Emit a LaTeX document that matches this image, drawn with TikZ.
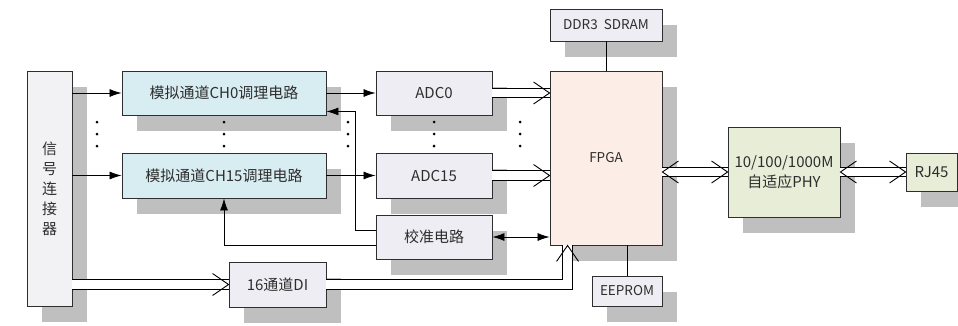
\documentclass[tikz,border=0pt]{standalone}
\usepackage{fontspec}
\setmainfont{Noto Sans CJK SC}
\usepackage{tikz}
\usetikzlibrary{arrows.meta,shadows}
\definecolor{bdline}{HTML}{2E2E2E}
\definecolor{connfill}{HTML}{F2F2F4}
\definecolor{chfill}{HTML}{D8EDF2}
\definecolor{adcfill}{HTML}{EEEDF3}
\definecolor{fpgafill}{HTML}{FCEEE6}
\definecolor{phyfill}{HTML}{E8EDD8}

\begin{document}
\begin{tikzpicture}[x=1pt, y=-1pt,
  blk/.style={draw=bdline, line width=0.9pt, text=bdline, inner sep=0pt,
    font=\fontsize{15}{20}\selectfont, minimum height=44pt,
    drop shadow={shadow xshift=15pt, shadow yshift=-16pt, fill=black!25, opacity=1}},
  sig/.style={-{Latex[length=12pt,width=8pt]}, line width=0.8pt, draw=black},
  sigboth/.style={sig, {Latex[length=12pt,width=8pt]}-{Latex[length=12pt,width=8pt]}},
  bus/.style={draw=black, line width=0.8pt, double=white, double distance=8.6pt},
  chev/.pic={\draw[line width=0.9pt] (-16,-11) -- (0,0) -- (-16,11);},
]
% page: 958 x 325, one unit = one pixel, y grows downwards
\useasboundingbox (0,0) rectangle (958,325);

% Blocks
\node[blk, fill=connfill, minimum width=45pt, minimum height=235pt, align=center] (conn) at (49.5,188.5) {信\\号\\连\\接\\器};
\node[blk, fill=chfill, minimum width=204pt] (ch0) at (224,93) {模拟通道CH0调理电路};
\node[blk, fill=chfill, minimum width=204pt, minimum height=45pt] (ch15) at (224,175.5) {模拟通道CH15调理电路};
\node[blk, fill=adcfill, minimum width=97pt, minimum height=45pt] (di) at (277.5,284.5) {16通道DI};
\node[blk, fill=adcfill, minimum width=116pt] (adc0) at (434,93) {ADC0};
\node[blk, fill=adcfill, minimum width=116pt, minimum height=45pt] (adc15) at (434,175.5) {ADC15};
\node[blk, fill=adcfill, minimum width=116pt] (calib) at (434,237) {校准电路};
\node[blk, fill=fpgafill, minimum width=112pt, minimum height=174pt, font=\fontsize{13.5}{16}\selectfont] (fpga) at (606,158) {FPGA};
\node[blk, fill=adcfill, minimum width=112pt, minimum height=32pt, font=\fontsize{13.5}{16}\selectfont] (ddr) at (606,25) {DDR3\ \ SDRAM};
\node[blk, fill=adcfill, minimum width=70pt, minimum height=30pt, font=\fontsize{13.5}{16}\selectfont] (eeprom) at (627,291) {EEPROM};
\node[blk, fill=phyfill, minimum width=112pt, minimum height=90pt, align=center] (phy) at (784,172) {10/100/1000M\\自适应PHY};
\node[blk, fill=phyfill, minimum width=51pt, minimum height=38pt] (rj) at (931.5,172) {RJ45};

% Ellipsis dots between channel 0 and channel 15
\foreach \x in {97,224,348,434,520} {
  \foreach \y in {122,134,146} {
    \fill[black] (\x,\y) circle (1.5pt);
  }
}

% Analog signal path
\draw[sig] (conn.east |- ch0.west) -- (ch0.west);
\draw[sig] (conn.east |- ch15.west) -- (ch15.west);
\draw[sig] (ch0.east) -- (adc0.west);
\draw[sig] (ch15.east) -- (adc15.west);

% Calibration feedback
\draw[sig] ([yshift=7pt]calib.west) -- ++(-20,0) |- ([yshift=4pt]ch0.south east);
\draw[sig] ([yshift=-8pt]calib.west) -| (ch15.south);
\draw[sigboth] (calib.east) -- (calib.east -| fpga.west);

% Data buses
\draw[bus] (adc0.east) -- (adc0.east -| fpga.west);
\pic at (adc0.east -| fpga.west) {chev};
\draw[bus] (adc15.east) -- (adc15.east -| fpga.west);
\pic at (adc15.east -| fpga.west) {chev};
\draw[bus] (conn.east |- di.west) -- (di.west);
\pic at (di.west) {chev};
\coordinate (diin) at ([xshift=18pt]fpga.south west);
\draw[bus] (di.east) -| (diin);
\pic[rotate=90] at (diin) {chev};
\draw[bus] (fpga.east |- phy.west) -- (phy.west);
\pic at (phy.west) {chev};
\pic[rotate=180] at (fpga.east |- phy.west) {chev};
\draw[bus] (phy.east) -- (rj.west);
\pic at (rj.west) {chev};
\pic[rotate=180] at (phy.east) {chev};

% Memories
\draw[line width=0.8pt] (ddr.south) -- (fpga.north);
\draw[line width=0.8pt] (eeprom.north) -- (eeprom.north |- fpga.south);
\end{tikzpicture}
\end{document}
